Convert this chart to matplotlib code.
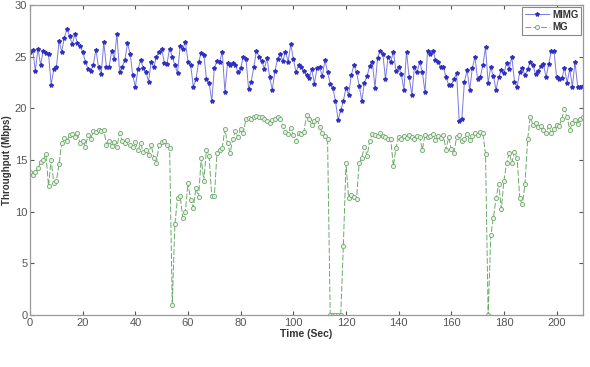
import matplotlib
matplotlib.use('Agg')
import matplotlib.pyplot as plt
import numpy as np

time_sec = list(range(0, 211))

mimg = [25.5, 25.7, 23.6, 25.8, 24.2, 25.6, 25.4, 25.3, 22.3, 23.8,
        24.0, 26.5, 25.5, 26.8, 27.7, 27.0, 26.2, 27.2, 26.3, 26.0,
        25.5, 24.5, 23.8, 23.6, 24.2, 25.7, 24.0, 23.3, 26.4, 24.0,
        24.0, 25.6, 24.8, 27.2, 23.5, 24.0, 24.7, 26.3, 25.3, 23.2,
        22.1, 23.8, 24.7, 23.9, 23.5, 22.6, 24.5, 24.0, 25.0, 25.5,
        25.8, 24.4, 24.3, 25.8, 25.0, 24.2, 23.4, 26.0, 25.8, 26.4,
        24.5, 24.2, 22.1, 22.8, 24.5, 25.4, 25.2, 22.8, 22.5, 20.7,
        23.9, 24.6, 24.5, 25.5, 21.6, 24.4, 24.2, 24.4, 24.2, 23.5,
        23.9, 25.0, 24.8, 21.9, 22.6, 24.0, 25.6, 25.0, 24.6, 23.8,
        24.9, 23.0, 21.8, 23.6, 24.8, 25.3, 24.6, 25.5, 24.5, 26.2,
        24.8, 23.5, 24.2, 24.0, 23.6, 23.2, 22.9, 23.8, 22.4, 23.9,
        24.0, 23.1, 24.7, 23.5, 22.4, 22.0, 20.7, 18.9, 19.8, 20.7,
        22.0, 21.3, 23.2, 24.2, 23.5, 22.2, 20.7, 22.5, 23.1, 24.1,
        24.5, 22.0, 24.9, 25.6, 25.3, 22.8, 25.0, 24.5, 25.5, 23.6,
        24.0, 23.3, 21.8, 25.5, 23.0, 21.3, 24.0, 23.5, 24.5, 23.5,
        21.6, 25.6, 25.3, 25.6, 24.7, 24.5, 24.0, 24.0, 23.0, 22.3,
        22.3, 22.8, 23.4, 18.8, 19.0, 22.6, 23.7, 21.8, 23.9, 25.0,
        22.8, 23.0, 24.2, 25.9, 22.5, 24.0, 23.1, 21.8, 23.0, 23.7,
        23.4, 24.4, 23.8, 25.0, 22.6, 22.1, 23.5, 23.9, 23.2, 23.8,
        24.5, 24.2, 23.3, 23.6, 24.1, 24.3, 23.0, 24.3, 25.6, 25.6,
        23.0, 22.8, 22.9, 23.9, 22.5, 23.8, 22.1, 24.5, 22.1, 22.1,
        22.2]

mg = [13.8, 13.5, 13.8, 14.2, 14.8, 15.0, 15.6, 12.5, 15.0, 12.8,
      13.0, 14.6, 16.6, 17.1, 16.8, 17.4, 17.5, 17.2, 17.6, 16.6,
      16.8, 16.3, 17.4, 17.0, 17.8, 17.7, 17.9, 17.8, 17.9, 16.5,
      16.8, 16.4, 16.7, 16.3, 17.6, 16.8, 16.6, 16.9, 16.5, 16.3,
      16.7, 16.0, 16.6, 15.8, 16.0, 15.5, 16.5, 15.2, 14.7, 16.5,
      16.7, 16.8, 16.5, 16.2, 1.0, 8.8, 11.3, 11.5, 9.4, 10.0,
      12.8, 11.1, 10.4, 12.3, 11.4, 15.2, 13.0, 16.0, 15.4, 11.5,
      11.5, 15.7, 16.0, 16.2, 18.0, 16.6, 15.7, 17.0, 17.8, 17.2,
      18.0, 17.6, 19.0, 19.1, 19.0, 19.2, 19.3, 19.2, 19.2, 19.0,
      18.8, 18.6, 18.9, 19.0, 19.2, 19.0, 18.3, 17.7, 17.5, 18.1,
      17.4, 16.8, 17.6, 17.5, 17.7, 19.4, 19.0, 18.4, 18.8, 19.0,
      18.2, 17.6, 17.3, 17.0, 0.0, 0.0, 0.0, 0.0, 0.0, 6.7,
      14.7, 11.3, 11.6, 11.4, 11.2, 14.7, 15.2, 16.3, 15.4, 16.8,
      17.5, 17.4, 17.3, 17.6, 17.3, 17.2, 17.0, 17.0, 14.4, 16.2,
      17.2, 17.0, 17.3, 17.1, 17.4, 17.2, 17.0, 17.3, 17.2, 16.0,
      17.4, 17.2, 17.3, 17.5, 16.9, 17.3, 17.1, 17.4, 16.0, 17.2,
      16.1, 15.7, 17.2, 17.4, 16.8, 17.0, 17.5, 16.9, 17.3, 17.6,
      17.4, 17.7, 17.6, 15.6, 0.0, 7.7, 9.4, 11.3, 12.7, 10.3,
      13.0, 14.7, 15.7, 14.7, 15.8, 15.2, 11.3, 10.7, 12.7, 17.0,
      19.2, 18.4, 18.6, 18.2, 18.3, 17.9, 17.6, 18.3, 17.6, 18.0,
      18.4, 18.3, 19.0, 19.9, 19.2, 17.9, 18.6, 18.9, 18.5, 19.0,
      19.2]

x_ticks = list(range(0, 201, 20))
y_ticks = list(range(0, 31, 5))

plt.rcParams['font.family'] = ['Liberation Sans', 'DejaVu Sans']

fig = plt.figure(figsize=(5.9, 3.67), dpi=100)
ax = fig.add_axes([0.051, 0.142, 0.937, 0.844])

ax.plot(time_sec, mimg, color='#7a7ae0', linewidth=0.7, marker='*',
        markersize=3, markerfacecolor='#3030c0', markeredgecolor='#3030c0',
        label='MIMG')
ax.plot(time_sec, mg, color='#6aaa6a', linewidth=0.7, linestyle=(0, (6, 2)),
        marker='o', markersize=3, markerfacecolor='#e8f2e4',
        markeredgecolor='#70a870', markeredgewidth=0.6, label='MG')

ax.set_xlim(0, 210)
ax.set_ylim(0, 30)
ax.set_xticks(x_ticks)
ax.set_yticks(y_ticks)
ax.tick_params(direction='in', length=3, width=0.8, labelsize=8,
               colors='#555555', top=True, right=True, pad=2)
for s in ax.spines.values():
    s.set_color('#999999')
    s.set_linewidth(0.9)

ax.set_xlabel('Time (Sec)', fontsize=7.5, fontweight='bold', color='#333333',
              labelpad=1)
ax.set_ylabel('Throughput (Mbps)', fontsize=7, fontweight='bold',
              color='#333333', labelpad=2)

leg = ax.legend(loc='upper right', prop={'weight': 'bold', 'size': 7},
                fancybox=False, framealpha=1, edgecolor='#888888',
                borderpad=0.3, handlelength=2.5, handletextpad=0.3,
                labelspacing=0.3, borderaxespad=0.15)
leg.get_frame().set_linewidth(0.8)
for t in leg.get_texts():
    t.set_color('#333333')

fig.savefig('out.png', dpi=100)
